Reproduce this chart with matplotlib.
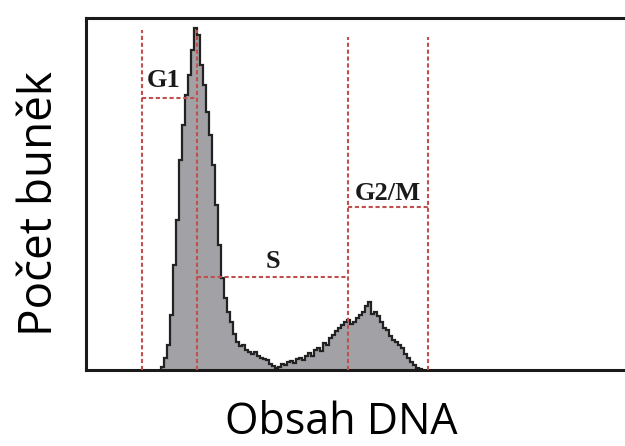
import numpy as np
import matplotlib.pyplot as plt

# histogram of DNA content (channel units), bin width 3
bin_start = 161
bin_width = 3
counts = [3, 12, 25, 55, 105, 150, 210, 245, 275, 295,
          320, 342, 335, 305, 285, 258, 235, 205, 165, 125,
          92, 72, 58, 48, 36, 28, 24, 25, 20, 18,
          16, 18, 14, 12, 11, 10, 6, 4, 2, 3,
          6, 5, 8, 9, 7, 11, 12, 10, 14, 17,
          14, 20, 22, 19, 27, 25, 32, 35, 39, 42,
          45, 48, 50, 46, 48, 52, 55, 58, 64, 68,
          56, 58, 54, 48, 42, 40, 34, 30, 28, 25,
          22, 16, 12, 8, 5, 2, 1]

# gate boundaries (channel units) and the height of each gate bar
gate_x = [142, 197, 348, 428]
gate_top = [340, 340, 333, 333]
gate_names = ["G1", "S", "G2/M"]
gate_bar_y = [272, 93, 163]
gate_label_y = [290, 108, 177]

edges = bin_start + bin_width * np.arange(len(counts) + 1)

fig = plt.figure(figsize=(6.25, 4.46), dpi=100)
ax = fig.add_axes([86 / 625, 76 / 446, (645 - 86) / 625, 352 / 446])

ax.stairs(counts, edges, fill=True, color="#a2a2a6", zorder=1)
ax.stairs(counts, edges, color="#222222", lw=1.6, zorder=2)

red = "#c0504d"
dash = (0, (2.0, 1.3))
for x, top in zip(gate_x, gate_top):
    ax.plot([x, x], [0, top], color=red, lw=1.5, ls=dash, zorder=3)

for i, name in enumerate(gate_names):
    x0, x1 = gate_x[i], gate_x[i + 1]
    ax.plot([x0, x1], [gate_bar_y[i], gate_bar_y[i]], color=red, lw=1.5,
            ls=dash, zorder=3)
    ax.text((x0 + x1) / 2 - (6 if i == 0 else 0), gate_label_y[i], name,
            family="Liberation Serif", weight="bold", fontsize=19,
            ha="center", va="center", color="#1a1a1a", zorder=4)

ax.set_xlim(86, 645)
ax.set_ylim(0, 352)
ax.set_xticks([])
ax.set_yticks([])
for s in ax.spines.values():
    s.set_linewidth(2.2)
    s.set_color("#1a1a1a")

fig.text(52 / 625, 1 - 204 / 446, "Počet buněk", rotation=90,
         rotation_mode="anchor", family="Open Sans", fontsize=33,
         ha="center", va="baseline")
fig.text(341 / 625, 1 - 434 / 446, "Obsah DNA",
         family="Open Sans", fontsize=31, ha="center", va="baseline")

fig.savefig("out.png", dpi=100)
